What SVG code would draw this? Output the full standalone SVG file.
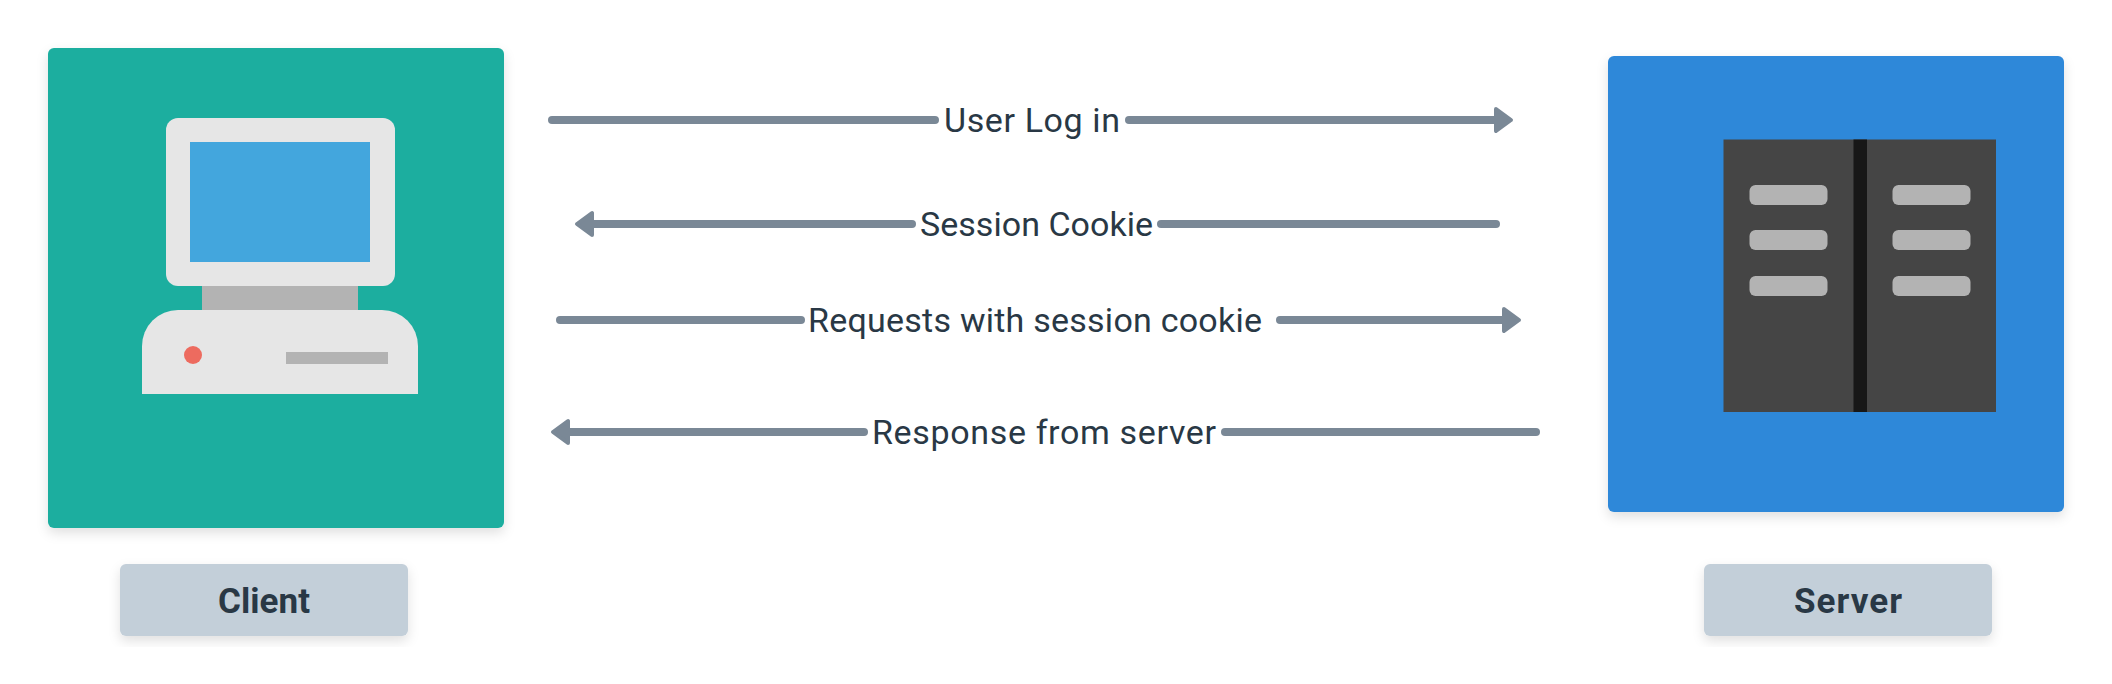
<svg xmlns="http://www.w3.org/2000/svg" width="2112" height="684" viewBox="0 0 2112 684">
<style>
.lbl{font-family:Roboto,"Liberation Sans",sans-serif;font-size:34px;fill:#293845}
.cap{font-family:Roboto,"Liberation Sans",sans-serif;font-size:35px;font-weight:700;fill:#293845}
.ln{fill:none;stroke:#7A8896;stroke-width:8;stroke-linecap:round}
.lt{fill:#E6E6E6}.md{fill:#B3B3B3}.dk{fill:#454545}
.sh{filter:url(#shadow)}
</style>
<defs>
<filter id="shadow" x="-10%" y="-10%" width="120%" height="125%"><feDropShadow dx="0" dy="5" stdDeviation="6" flood-color="#000" flood-opacity="0.12"/></filter>
<marker id="arrow" markerUnits="userSpaceOnUse" markerWidth="24" markerHeight="30" viewBox="-2 -15 24 30" refX="0" refY="0" orient="auto-start-reverse"><path d="M0,-11 L15,0 L0,11 Z" fill="#7A8896" stroke="#7A8896" stroke-width="4" stroke-linejoin="round"/></marker>
</defs>
<rect width="2112" height="684" fill="#fff"/>
<g id="client">
<rect class="sh" x="48" y="48" width="456" height="480" rx="6" fill="#1AAE9F"/>
<rect class="md" x="202" y="280" width="156" height="35"/>
<rect class="lt" x="166" y="118" width="229" height="168" rx="12"/>
<rect x="190" y="142" width="180" height="120" fill="#43A6DD"/>
<path class="lt" d="M142,394 V346 A36,36 0 0 1 178,310 H382 A36,36 0 0 1 418,346 V394 Z"/>
<circle cx="193" cy="355" r="9" fill="#ED6B5F"/>
<rect class="md" x="286" y="352" width="102" height="12"/>
</g>
<g id="client-label">
<rect class="sh" x="120" y="564" width="288" height="72" rx="6" fill="#C3CFD9"/>
<text class="cap" x="218" y="612.5" textLength="92">Client</text>
</g>
<g id="server">
<rect class="sh" x="1608" y="56" width="456" height="456" rx="6" fill="#2D88D9"/>
<rect class="dk" x="1723.5" y="139.5" width="272.5" height="272.5"/>
<rect x="1853.5" y="139.5" width="13.5" height="272.5" fill="#171717"/>
<rect class="md" x="1749.5" y="185" width="78" height="20" rx="6"/>
<rect class="md" x="1749.5" y="230" width="78" height="20" rx="6"/>
<rect class="md" x="1749.5" y="276" width="78" height="20" rx="6"/>
<rect class="md" x="1892.5" y="185" width="78" height="20" rx="6"/>
<rect class="md" x="1892.5" y="230" width="78" height="20" rx="6"/>
<rect class="md" x="1892.5" y="276" width="78" height="20" rx="6"/>
</g>
<g id="server-label">
<rect class="sh" x="1704" y="564" width="288" height="72" rx="6" fill="#C3CFD9"/>
<text class="cap" x="1794" y="612.5" textLength="108">Server</text>
</g>
<g id="connectors">
<path class="ln" d="M552,120 H935"/>
<path class="ln" d="M1129,120 H1496" marker-end="url(#arrow)"/>
<path class="ln" d="M912,224 H592" marker-end="url(#arrow)"/>
<path class="ln" d="M1161,224 H1496"/>
<path class="ln" d="M560,320 H801"/>
<path class="ln" d="M1280,320 H1504" marker-end="url(#arrow)"/>
<path class="ln" d="M864,432 H568" marker-end="url(#arrow)"/>
<path class="ln" d="M1225,432 H1536"/>
</g>
<g id="labels">
<text class="lbl" x="944" y="132" textLength="176">User Log in</text>
<text class="lbl" x="920" y="236" textLength="233">Session Cookie</text>
<text class="lbl" x="808" y="332" textLength="454">Requests with session cookie</text>
<text class="lbl" x="872" y="444" textLength="344">Response from server</text>
</g>
</svg>
